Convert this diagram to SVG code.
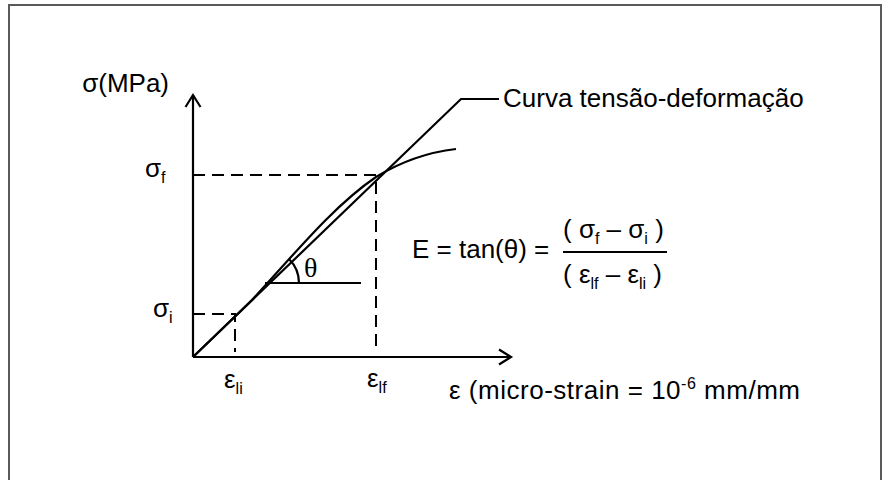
<svg xmlns="http://www.w3.org/2000/svg" width="882" height="480" viewBox="0 0 882 480">
<style>
.ln{fill:none;stroke:#000;stroke-width:2.2}
.ds{fill:none;stroke:#000;stroke-width:2;stroke-dasharray:12,7}
.t{font-family:"Liberation Sans",Arial,sans-serif;font-size:26px;fill:#000}
.s{font-size:16px}
.th{font-family:"Liberation Serif","Times New Roman",serif;font-size:28px;fill:#000}
</style>
<defs>
<marker id="ah" markerUnits="userSpaceOnUse" markerWidth="20" markerHeight="20" refX="0" refY="0" viewBox="-14 -10 16 20" orient="auto" overflow="visible">
<path d="M-12,-7.5 L0,0 L-12,7.5" fill="none" stroke="#000" stroke-width="2.2"/>
</marker>
</defs>
<rect width="882" height="480" fill="#fff"/>
<path d="M9,482 V5 H881 V482" fill="none" stroke="#5a5a5a" stroke-width="2"/>
<g id="axes">
<path class="ln" d="M193,357 V95" marker-end="url(#ah)"/>
<path class="ln" d="M193,357 H511" marker-end="url(#ah)"/>
</g>
<g id="connectors">
<path class="ds" d="M193,175 H376 V352"/>
<path class="ds" d="M193,314 H235 V352"/>
<path class="ln" d="M193,357 L461,99 H499"/>
<path class="ln" d="M193,357 L252,300 C292,257 332,207 376,177 C402,161 430,152 456,149"/>
<path class="ln" d="M265,283 H361"/>
<path class="ln" d="M299,283 A34,34 0 0 0 289,259"/>
</g>
<g id="labels">
<text class="t" x="169" y="92" text-anchor="end">σ(MPa)</text>
<text class="t" x="145" y="177">σ<tspan class="s" dy="6">f</tspan></text>
<text class="t" x="153" y="317">σ<tspan class="s" dy="6">i</tspan></text>
<text class="t" x="224" y="388">ε<tspan class="s" dy="6">li</tspan></text>
<text class="t" x="367" y="387">ε<tspan class="s" dy="6">lf</tspan></text>
<text class="th" x="304" y="277">θ</text>
<text class="t" x="503" y="107">Curva tensão-deformação</text>
<text class="t" x="449" y="399" textLength="351" lengthAdjust="spacing">ε (micro-strain = 10<tspan class="s" dy="-10">-6</tspan><tspan dy="10"> mm/mm</tspan></text>
</g>
<g id="formula">
<text class="t" x="412" y="258">E = tan(θ) =</text>
<text class="t" x="563" y="238">( σ<tspan class="s" dy="6">f</tspan><tspan dy="-6">  – σ</tspan><tspan class="s" dy="6">i</tspan><tspan dy="-6">  )</tspan></text>
<path class="ln" d="M563,252 H667" stroke-width="2"/>
<text class="t" x="563" y="283">( ε<tspan class="s" dy="6">lf</tspan><tspan dy="-6">  – ε</tspan><tspan class="s" dy="6">li</tspan><tspan dy="-6">  )</tspan></text>
</g>
</svg>
